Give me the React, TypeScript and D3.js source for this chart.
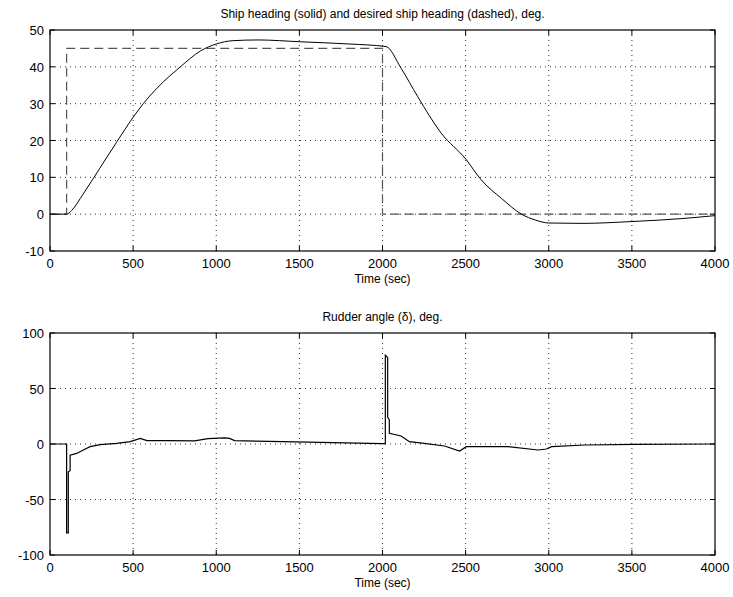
import * as d3 from 'd3';

// heading (solid), deg
const headingT = [0, 100, 130, 200, 300, 400, 500, 561, 650, 784, 905, 1000, 1100, 1250, 1508, 1800, 2021, 2112, 2212, 2353, 2500, 2594, 2715, 2836, 2920, 3000, 3200, 3500, 3800, 4000];
const headingV = [0, 0, 1, 5.5, 12.5, 19.5, 26.3, 30, 34.5, 40, 44.3, 46.2, 47.1, 47.3, 46.8, 46.2, 45.5, 39.6, 31.9, 22, 15, 9.3, 4.3, 0, -1.6, -2.4, -2.5, -2.0, -1.2, -0.4];

// desired heading (dashed), deg
const desiredT = [0, 100, 100, 2000, 2000, 4000];
const desiredV = [0, 0, 45, 45, 0, 0];

// rudder angle, deg
const rudderT = [0, 100, 100, 110, 110, 121, 121, 160, 201, 241, 302, 400, 483, 543, 583, 700, 870, 950, 1050, 1080, 1110, 1400, 1700, 2000, 2017, 2017, 2031, 2031, 2041, 2041, 2112, 2162, 2252, 2373, 2464, 2504, 2755, 2936, 2986, 3017, 3217, 3519, 4000];
const rudderV = [0, 0, -80, -80, -25, -24, -10, -8.5, -5.4, -2.4, -0.6, 0.5, 2.1, 5.1, 3, 3, 2.8, 4.8, 5.5, 5, 3, 2.2, 1.2, 0.3, 0.3, 80, 78, 24, 22, 9.6, 7.2, 2.1, 0.6, -1.8, -6.3, -2.4, -2.4, -5.4, -4.5, -2.4, -0.9, -0.3, 0];

const xTicks = [0, 500, 1000, 1500, 2000, 2500, 3000, 3500, 4000];
const headingTicks = [-10, 0, 10, 20, 30, 40, 50];
const rudderTicks = [-100, -50, 0, 50, 100];

const font = 'Liberation Sans, Arial, sans-serif';

type PanelProps = {
  top: number;
  bottom: number;
  yDomain: [number, number];
  yTicks: number[];
  title: string;
  children: (x: d3.ScaleLinear<number, number>, y: d3.ScaleLinear<number, number>) => any;
};

const left = 50;
const right = 715;

function Panel({ top, bottom, yDomain, yTicks, title, children }: PanelProps) {
  const x = d3.scaleLinear().domain([0, 4000]).range([left, right]);
  const y = d3.scaleLinear().domain(yDomain).range([bottom, top]);
  const tk = 5;
  return (
    <g>
      <text x={(left + right) / 2} y={top - 12} textAnchor="middle" fontSize={12} fontFamily={font}>{title}</text>
      {/* grid */}
      {xTicks.slice(1, -1).map(t => (
        <line key={'gx' + t} x1={x(t)} x2={x(t)} y1={top} y2={bottom} stroke="#333" strokeWidth={1} strokeDasharray="1,4" />
      ))}
      {yTicks.slice(1, -1).map(t => (
        <line key={'gy' + t} x1={left} x2={right} y1={y(t)} y2={y(t)} stroke="#333" strokeWidth={1} strokeDasharray="1,4" />
      ))}
      {/* ticks */}
      {xTicks.map(t => (
        <g key={'tx' + t}>
          <line x1={x(t)} x2={x(t)} y1={bottom} y2={bottom - tk} stroke="#000" />
          <line x1={x(t)} x2={x(t)} y1={top} y2={top + tk} stroke="#000" />
          <text x={x(t)} y={bottom + 17} textAnchor="middle" fontSize={13} fontFamily={font}>{t}</text>
        </g>
      ))}
      {yTicks.map(t => (
        <g key={'ty' + t}>
          <line x1={left} x2={left + tk} y1={y(t)} y2={y(t)} stroke="#000" />
          <line x1={right} x2={right - tk} y1={y(t)} y2={y(t)} stroke="#000" />
          <text x={left - 6} y={y(t) + 5} textAnchor="end" fontSize={13} fontFamily={font}>{t}</text>
        </g>
      ))}
      {children(x, y)}
      <rect x={left} y={top} width={right - left} height={bottom - top} fill="none" stroke="#000" strokeWidth={1.2} />
      <text x={(left + right) / 2} y={bottom + 32} textAnchor="middle" fontSize={12} fontFamily={font}>Time (sec)</text>
    </g>
  );
}

function path(ts: number[], vs: number[], x: any, y: any, curve: any = d3.curveLinear) {
  const line = d3.line<number>().x((_, i) => x(ts[i])).y((v) => y(v)).curve(curve);
  return line(vs) || '';
}

export default function App() {
  return (
    <svg width={733} height={597} style={{ position: 'absolute', left: 0, top: 0, background: '#fff' }}>
      <rect width={733} height={597} fill="#fff" />
      <Panel top={30} bottom={251} yDomain={[-10, 50]} yTicks={headingTicks} title="Ship heading (solid) and desired ship heading (dashed), deg.">
        {(x, y) => (
          <g>
            <path d={path(desiredT, desiredV, x, y)} fill="none" stroke="#555" strokeWidth={1.2} strokeDasharray="9,5" />
            <path d={path(headingT, headingV, x, y, d3.curveMonotoneX)} fill="none" stroke="#000" strokeWidth={1} />
          </g>
        )}
      </Panel>
      <Panel top={333} bottom={555} yDomain={[-100, 100]} yTicks={rudderTicks} title="Rudder angle (δ), deg.">
        {(x, y) => (
          <path d={path(rudderT, rudderV, x, y)} fill="none" stroke="#000" strokeWidth={1.2} />
        )}
      </Panel>
    </svg>
  );
}
